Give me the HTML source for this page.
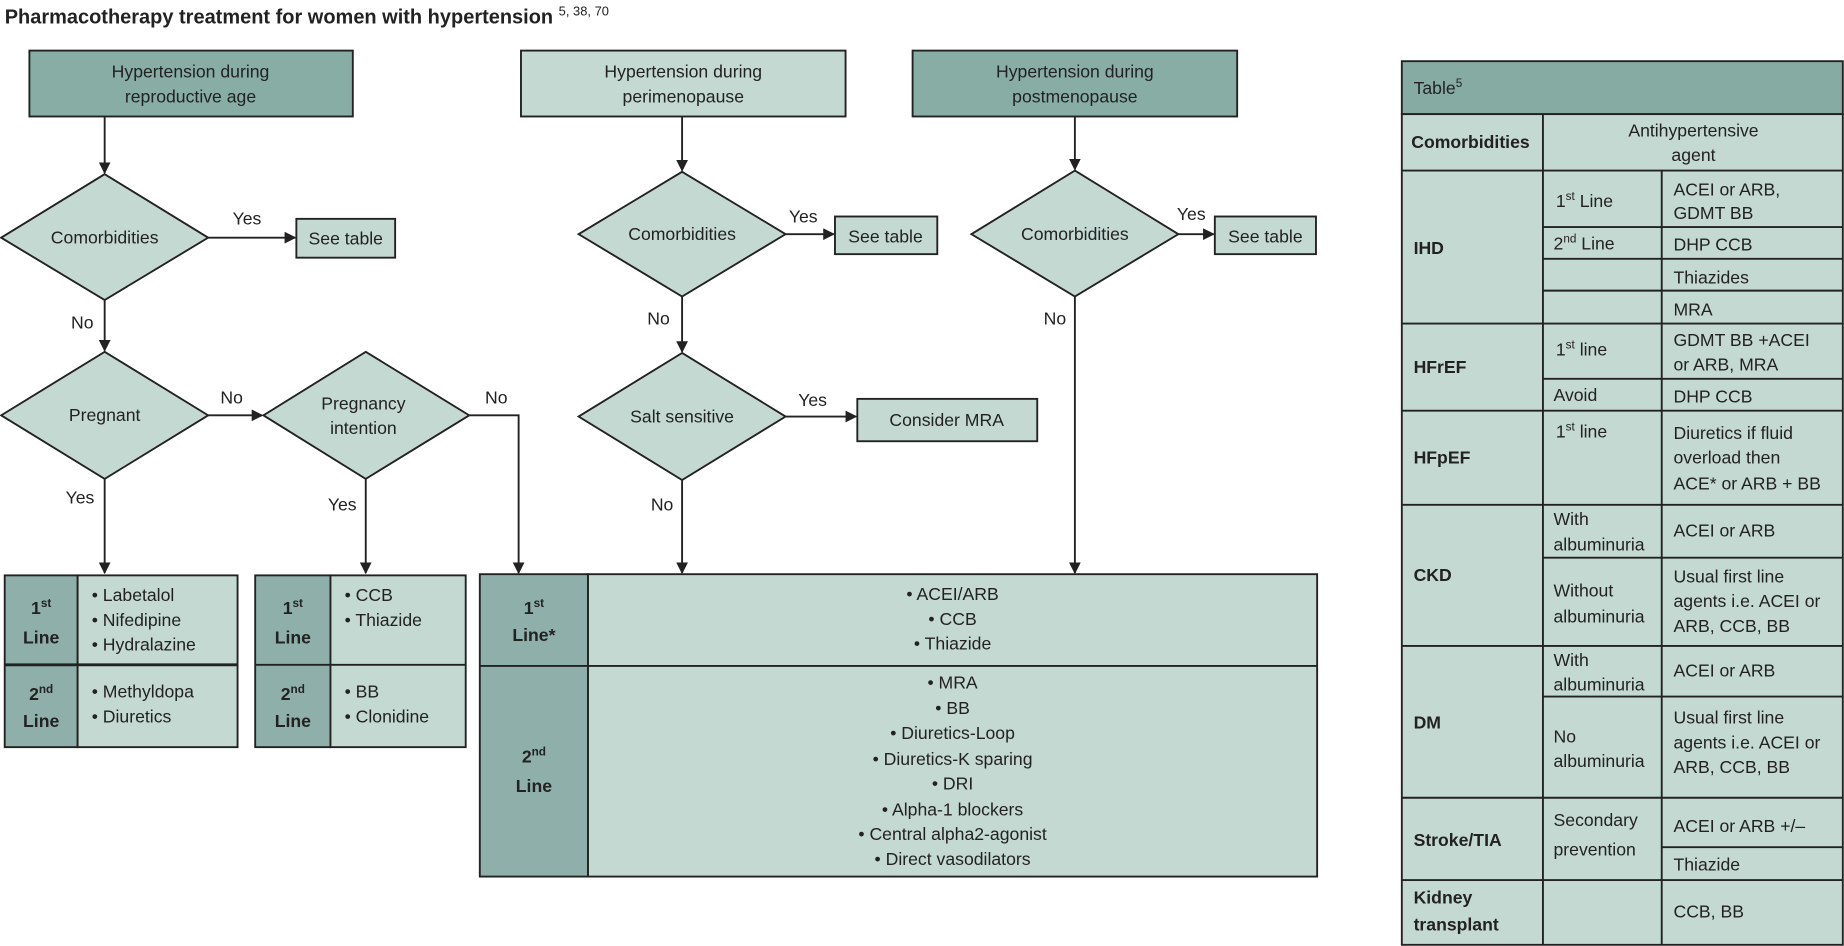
<!DOCTYPE html>
<html><head><meta charset="utf-8"><style>
html,body{margin:0;padding:0;background:#fff;}
svg{display:block;}
text{font-family:"Liberation Sans",sans-serif;fill:#222;}
.t{font-size:15px;}
.b{font-weight:bold;}
</style></head><body>
<svg width="1844" height="946" viewBox="0 0 1568 804" preserveAspectRatio="none" xmlns="http://www.w3.org/2000/svg">
<defs><marker id="a" markerWidth="10" markerHeight="10" refX="9" refY="5" orient="auto" markerUnits="userSpaceOnUse"><path d="M0,0 L10,5 L0,10 Z" fill="#222"/></marker></defs>
<g stroke="#222" stroke-width="1.6">
<!-- header boxes -->
<rect x="25" y="43" width="275" height="56" fill="#88ada5"/>
<rect x="443" y="43" width="276" height="56" fill="#c5d9d3"/>
<rect x="776" y="43" width="276" height="56" fill="#88ada5"/>
<!-- diamonds -->
<polygon points="89,148 177,202 89,255 1,202" fill="#c5d9d3"/>
<polygon points="89,299 177,353 89,407 1,353" fill="#c5d9d3"/>
<polygon points="311,299 399,353 311,407 224,353" fill="#c5d9d3"/>
<polygon points="580,146 668,199 580,252 492,199" fill="#c5d9d3"/>
<polygon points="580,300 668,354 580,408 492,354" fill="#c5d9d3"/>
<polygon points="914,145 1002,199 914,252 826,199" fill="#c5d9d3"/>
<!-- small boxes -->
<rect x="252" y="186" width="84" height="33" fill="#c5d9d3"/>
<rect x="710" y="184" width="87" height="32" fill="#c5d9d3"/>
<rect x="1033" y="184" width="86" height="32" fill="#c5d9d3"/>
<rect x="729" y="339" width="153" height="36" fill="#c5d9d3"/>
<!-- arrows -->
<g fill="none" marker-end="url(#a)">
<path d="M89,99 V147"/><path d="M177,202 H251"/><path d="M89,255 V298"/>
<path d="M177,353 H223"/><path d="M89,407 V487"/><path d="M311,407 V487"/>
<path d="M399,353 H441 V487"/>
<path d="M580,99 V145"/><path d="M668,199 H709"/><path d="M580,252 V299"/>
<path d="M668,354 H728"/><path d="M580,408 V487"/>
<path d="M914,99 V144"/><path d="M1002,199 H1032"/><path d="M914,252 V487"/>
</g>
<!-- table1 -->
<rect x="4" y="489" width="62" height="146" fill="#8fb0aa"/>
<rect x="66" y="489" width="136" height="146" fill="#c5d9d3"/>
<line x1="4" y1="565" x2="202" y2="565" stroke-width="2.5"/>
<!-- table2 -->
<rect x="217" y="489" width="64" height="146" fill="#8fb0aa"/>
<rect x="281" y="489" width="115" height="146" fill="#c5d9d3"/>
<line x1="217" y1="565" x2="396" y2="565"/>
<!-- big table -->
<rect x="408" y="488" width="92" height="257" fill="#8fb0aa"/>
<rect x="500" y="488" width="620" height="257" fill="#c5d9d3"/>
<line x1="408" y1="566" x2="1120" y2="566"/>
<!-- right table -->
<rect x="1192" y="52" width="375" height="45" fill="#86aba3"/>
<rect x="1192" y="97" width="375" height="706" fill="#c5d9d3"/>
<line x1="1312" y1="97" x2="1312" y2="803"/>
<line x1="1413" y1="145" x2="1413" y2="803"/>
<line x1="1192" y1="145" x2="1567" y2="145"/>
<line x1="1312" y1="193" x2="1567" y2="193"/>
<line x1="1312" y1="220" x2="1567" y2="220"/>
<line x1="1312" y1="247" x2="1567" y2="247"/>
<line x1="1192" y1="275" x2="1567" y2="275"/>
<line x1="1312" y1="322" x2="1567" y2="322"/>
<line x1="1192" y1="349" x2="1567" y2="349"/>
<line x1="1192" y1="429" x2="1567" y2="429"/>
<line x1="1312" y1="474" x2="1567" y2="474"/>
<line x1="1192" y1="549" x2="1567" y2="549"/>
<line x1="1312" y1="592" x2="1567" y2="592"/>
<line x1="1192" y1="678" x2="1567" y2="678"/>
<line x1="1413" y1="720" x2="1567" y2="720"/>
<line x1="1192" y1="748" x2="1567" y2="748"/>
</g>
<text x="4" y="20" class="b" style="font-size:17px">Pharmacotherapy treatment for women with hypertension <tspan style="font-size:11px;font-weight:normal" dy="-7">5, 38, 70</tspan></text>
<g class="t" text-anchor="middle">
<text x="162" y="66">Hypertension during</text><text x="162" y="87">reproductive age</text>
<text x="581" y="66">Hypertension during</text><text x="581" y="87">perimenopause</text>
<text x="914" y="66">Hypertension during</text><text x="914" y="87">postmenopause</text>
<text x="89" y="207">Comorbidities</text>
<text x="89" y="358">Pregnant</text>
<text x="309" y="348">Pregnancy</text><text x="309" y="369">intention</text>
<text x="580" y="204">Comorbidities</text>
<text x="580" y="359">Salt sensitive</text>
<text x="914" y="204">Comorbidities</text>
<text x="294" y="208">See table</text>
<text x="753" y="206">See table</text>
<text x="1076" y="206">See table</text>
<text x="805" y="362">Consider MRA</text>
<text x="210" y="191">Yes</text><text x="70" y="279">No</text>
<text x="197" y="343">No</text><text x="422" y="343">No</text>
<text x="68" y="428">Yes</text><text x="291" y="434">Yes</text>
<text x="683" y="189">Yes</text><text x="560" y="276">No</text>
<text x="691" y="345">Yes</text><text x="563" y="434">No</text>
<text x="1013" y="187">Yes</text><text x="897" y="276">No</text>
<text x="35" y="522" class="b">1<tspan dy="-6" style="font-size:10px">st</tspan></text><text x="35" y="547" class="b">Line</text>
<text x="35" y="595" class="b">2<tspan dy="-6" style="font-size:10px">nd</tspan></text><text x="35" y="618" class="b">Line</text>
<text x="249" y="522" class="b">1<tspan dy="-6" style="font-size:10px">st</tspan></text><text x="249" y="547" class="b">Line</text>
<text x="249" y="595" class="b">2<tspan dy="-6" style="font-size:10px">nd</tspan></text><text x="249" y="618" class="b">Line</text>
<text x="454" y="522" class="b">1<tspan dy="-6" style="font-size:10px">st</tspan></text><text x="454" y="545" class="b">Line*</text>
<text x="454" y="648" class="b">2<tspan dy="-6" style="font-size:10px">nd</tspan></text><text x="454" y="673" class="b">Line</text>
<text x="810" y="510">• ACEI/ARB</text><text x="810" y="531">• CCB</text><text x="810" y="552">• Thiazide</text>
<text x="810" y="585">• MRA</text><text x="810" y="607">• BB</text><text x="810" y="628">• Diuretics-Loop</text>
<text x="810" y="650">• Diuretics-K sparing</text><text x="810" y="671">• DRI</text>
<text x="810" y="693">• Alpha-1 blockers</text><text x="810" y="714">• Central alpha2-agonist</text>
<text x="810" y="735">• Direct vasodilators</text>
<text x="1440" y="116">Antihypertensive</text><text x="1440" y="137">agent</text>
</g>
<g class="t">
<text x="78" y="511">• Labetalol</text><text x="78" y="532">• Nifedipine</text><text x="78" y="553">• Hydralazine</text>
<text x="78" y="593">• Methyldopa</text><text x="78" y="614">• Diuretics</text>
<text x="293" y="511">• CCB</text><text x="293" y="532">• Thiazide</text>
<text x="293" y="593">• BB</text><text x="293" y="614">• Clonidine</text>
<text x="1202" y="80">Table<tspan dy="-6" style="font-size:10px">5</tspan></text>
<text x="1200" y="126" class="b">Comorbidities</text>
<text x="1202" y="216" class="b">IHD</text><text x="1202" y="317" class="b">HFrEF</text>
<text x="1202" y="394" class="b">HFpEF</text><text x="1202" y="494" class="b">CKD</text>
<text x="1202" y="619" class="b">DM</text><text x="1202" y="719" class="b">Stroke/TIA</text>
<text x="1202" y="768" class="b">Kidney</text><text x="1202" y="791" class="b">transplant</text>
<text x="1323" y="176">1<tspan dy="-6" style="font-size:10px">st</tspan><tspan dy="6"> Line</tspan></text>
<text x="1321" y="212">2<tspan dy="-6" style="font-size:10px">nd</tspan><tspan dy="6"> Line</tspan></text>
<text x="1323" y="302">1<tspan dy="-6" style="font-size:10px">st</tspan><tspan dy="6"> line</tspan></text>
<text x="1321" y="341">Avoid</text>
<text x="1323" y="372">1<tspan dy="-6" style="font-size:10px">st</tspan><tspan dy="6"> line</tspan></text>
<text x="1321" y="446">With</text><text x="1321" y="468">albuminuria</text>
<text x="1321" y="507">Without</text><text x="1321" y="529">albuminuria</text>
<text x="1321" y="566">With</text><text x="1321" y="587">albuminuria</text>
<text x="1321" y="631">No</text><text x="1321" y="652">albuminuria</text>
<text x="1321" y="702">Secondary</text><text x="1321" y="727">prevention</text>
<text x="1423" y="166">ACEI or ARB,</text><text x="1423" y="186">GDMT BB</text>
<text x="1423" y="213">DHP CCB</text><text x="1423" y="241">Thiazides</text><text x="1423" y="268">MRA</text>
<text x="1423" y="294">GDMT BB +ACEI</text><text x="1423" y="315">or ARB, MRA</text>
<text x="1423" y="342">DHP CCB</text>
<text x="1423" y="373">Diuretics if fluid</text><text x="1423" y="394">overload then</text><text x="1423" y="416">ACE* or ARB + BB</text>
<text x="1423" y="456">ACEI or ARB</text>
<text x="1423" y="495">Usual first line</text><text x="1423" y="516">agents i.e. ACEI or</text><text x="1423" y="537">ARB, CCB, BB</text>
<text x="1423" y="575">ACEI or ARB</text>
<text x="1423" y="615">Usual first line</text><text x="1423" y="636">agents i.e. ACEI or</text><text x="1423" y="657">ARB, CCB, BB</text>
<text x="1423" y="707">ACEI or ARB +/–</text><text x="1423" y="740">Thiazide</text>
<text x="1423" y="780">CCB, BB</text>
</g>
</svg>
</body></html>
